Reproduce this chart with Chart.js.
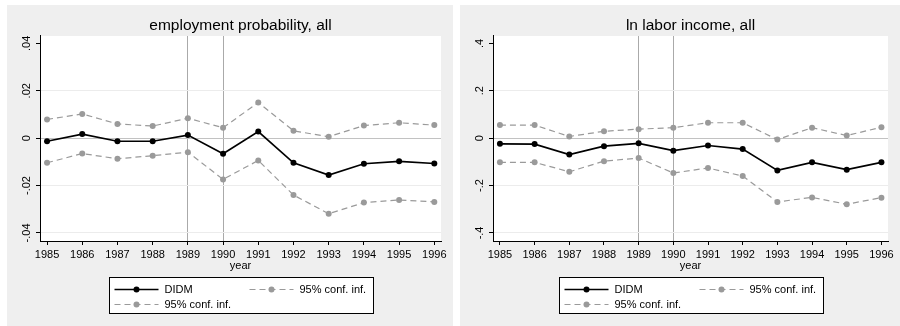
<!DOCTYPE html>
<html>
<head>
<meta charset="utf-8">
<script src="https://cdn.jsdelivr.net/npm/chart.js@4.4.1/dist/chart.umd.min.js"></script>
<style>
  html, body { margin: 0; padding: 0; background: #ffffff; }
  body { width: 900px; height: 326px; position: relative; overflow: hidden; }
  canvas { position: absolute; background: #efefef; }
  #empChart { left: 7px; top: 5px; }
  #incChart { left: 460px; top: 5px; }
</style>
</head>
<body>
<canvas id="empChart" width="446" height="321"></canvas>
<canvas id="incChart" width="440" height="321"></canvas>
<script>
// Event-study estimates by year with 95% confidence bounds
const years = [1985, 1986, 1987, 1988, 1989, 1990, 1991, 1992, 1993, 1994, 1995, 1996];

// Employment probability
const empDidm  = [-0.0013, 0.0017, -0.0013, -0.0013, 0.0013, -0.0066, 0.0028, -0.0104, -0.0156, -0.0108, -0.0098, -0.0107];
const empUpper = [0.0079, 0.0102, 0.0060, 0.0051, 0.0084, 0.0044, 0.0150, 0.0031, 0.0006, 0.0053, 0.0065, 0.0055];
const empLower = [-0.0104, -0.0065, -0.0087, -0.0074, -0.0059, -0.0174, -0.0094, -0.0240, -0.0319, -0.0272, -0.0261, -0.0269];

// Log labor income
const incDidm  = [-0.024, -0.025, -0.069, -0.034, -0.022, -0.053, -0.031, -0.046, -0.136, -0.102, -0.133, -0.102];
const incUpper = [0.055, 0.055, 0.007, 0.029, 0.038, 0.044, 0.065, 0.065, -0.006, 0.044, 0.011, 0.046];
const incLower = [-0.102, -0.102, -0.142, -0.097, -0.084, -0.147, -0.126, -0.160, -0.269, -0.250, -0.279, -0.251];

// Y-axis ticks and their labels
const empTicks = [-0.04, -0.02, 0, 0.02, 0.04];
const empTickLabels = ['-.04', '-.02', '0', '.02', '.04'];
const incTicks = [-0.4, -0.2, 0, 0.2, 0.4];
const incTickLabels = ['-.4', '-.2', '0', '.2', '.4'];

// Reference years marked with vertical lines
const markYears = [1989, 1990];

const FONT = '"Liberation Sans", Arial, Helvetica, sans-serif';
const CI_GRAY = '#9a9a9a';

// White plotting region on the gray graph background
const plotBackground = {
  id: 'plotBackground',
  beforeDraw(chart) {
    const {ctx, chartArea: a} = chart;
    ctx.save();
    ctx.fillStyle = '#ffffff';
    ctx.fillRect(a.left, a.top, a.right - a.left, a.bottom - a.top);
    ctx.restore();
  }
};

// Boxed two-column legend below the x-axis title
const boxedLegend = {
  id: 'boxedLegend',
  afterDraw(chart) {
    const {ctx, chartArea: a} = chart;
    const w = 264, h = 36;
    const bx = Math.round((a.left + a.right) / 2 - w / 2) + 0.5;
    const by = Math.round(a.bottom + 36) + 0.5;
    ctx.save();
    ctx.fillStyle = '#ffffff';
    ctx.fillRect(bx, by, w, h);
    ctx.strokeStyle = '#000000';
    ctx.lineWidth = 1;
    ctx.setLineDash([]);
    ctx.strokeRect(bx, by, w, h);
    const slots = [[5, 12], [140, 12], [5, 27]];
    chart.data.datasets.forEach((ds, i) => {
      const [ox, oy] = slots[i];
      const x0 = bx + ox, y0 = by + oy;
      ctx.strokeStyle = ds.borderColor;
      ctx.lineWidth = ds.borderWidth;
      ctx.setLineDash(ds.borderDash || []);
      ctx.beginPath();
      ctx.moveTo(x0, y0);
      ctx.lineTo(x0 + 44, y0);
      ctx.stroke();
      ctx.setLineDash([]);
      ctx.fillStyle = ds.pointBackgroundColor;
      ctx.beginPath();
      ctx.arc(x0 + 22, y0, ds.pointRadius, 0, Math.PI * 2);
      ctx.fill();
      ctx.fillStyle = '#000000';
      ctx.font = '11px ' + FONT;
      ctx.textAlign = 'left';
      ctx.textBaseline = 'middle';
      ctx.fillText(ds.label, x0 + 50, y0 + 0.5);
    });
    ctx.restore();
  }
};

function series(values) {
  return years.map((yr, i) => ({x: yr, y: values[i]}));
}

function makeChart(id, titleText, didm, upper, lower, ticks, tickLabels, yMin, yMax, yPad) {
  const ctx = document.getElementById(id);
  return new Chart(ctx, {
    type: 'line',
    data: {
      datasets: [
        {
          label: 'DIDM', data: series(didm),
          borderColor: '#000000', borderWidth: 1.7,
          pointRadius: 3, pointBackgroundColor: '#000000', pointBorderWidth: 0,
          tension: 0
        },
        {
          label: '95% conf. inf.', data: series(upper),
          borderColor: CI_GRAY, borderWidth: 1.2, borderDash: [6, 4],
          pointRadius: 3, pointBackgroundColor: CI_GRAY, pointBorderWidth: 0,
          tension: 0
        },
        {
          label: '95% conf. inf.', data: series(lower),
          borderColor: CI_GRAY, borderWidth: 1.2, borderDash: [6, 4],
          pointRadius: 3, pointBackgroundColor: CI_GRAY, pointBorderWidth: 0,
          tension: 0
        }
      ]
    },
    options: {
      responsive: false,
      animation: false,
      devicePixelRatio: 1,
      layout: { padding: { left: 0, right: 12, top: 0, bottom: 53.7 } },
      plugins: {
        legend: { display: false },
        tooltip: { enabled: false },
        title: {
          display: true, text: titleText, fullSize: false,
          color: '#000000',
          font: { family: FONT, size: 15.5, weight: 'normal', lineHeight: 1.2 },
          padding: { top: 11.7, bottom: 0.7 }
        }
      },
      scales: {
        x: {
          type: 'linear', min: 1984.8, max: 1996.19,
          afterBuildTicks(scale) { scale.ticks = years.map(v => ({value: v})); },
          afterFit(scale) { scale.height = 31.3; },
          ticks: {
            color: '#000000', padding: 3, maxRotation: 0, autoSkip: false,
            font: { family: FONT, size: 11 },
            callback: v => String(v)
          },
          grid: {
            color: c => (c.tick && markYears.includes(c.tick.value)) ? '#aaaaaa' : 'rgba(0,0,0,0)',
            tickColor: '#000000', tickLength: 4, lineWidth: 1
          },
          border: { color: '#000000', width: 1 },
          title: {
            display: true, text: 'year', color: '#000000',
            font: { family: FONT, size: 11, lineHeight: 1.2 },
            padding: { top: 0, bottom: 0 }
          }
        },
        y: {
          type: 'linear', min: yMin, max: yMax,
          afterBuildTicks(scale) { scale.ticks = ticks.map(v => ({value: v})); },
          afterFit(scale) { scale.width = 33; },
          ticks: {
            color: '#000000', padding: yPad, minRotation: 90, maxRotation: 90,
            crossAlign: 'center', autoSkip: false,
            font: { family: FONT, size: 11 },
            callback: v => {
              const k = ticks.findIndex(t => Math.abs(t - v) < 1e-9);
              return k >= 0 ? tickLabels[k] : '';
            }
          },
          grid: {
            color: c => {
              if (!c.tick) return 'rgba(0,0,0,0)';
              const v = c.tick.value;
              if (Math.abs(v) < 1e-9) return '#c2c2c2';
              if (Math.abs(v - ticks[ticks.length - 1]) < 1e-9) return 'rgba(0,0,0,0)';
              return '#ececec';
            },
            tickColor: '#000000', tickLength: 4, lineWidth: 1
          },
          border: { color: '#000000', width: 1 }
        }
      }
    },
    plugins: [plotBackground, boxedLegend]
  });
}

makeChart('empChart', 'employment probability, all', empDidm, empUpper, empLower,
  empTicks, empTickLabels, -0.0434, 0.0431, -0.5);
makeChart('incChart', 'ln labor income, all', incDidm, incUpper, incLower,
  incTicks, incTickLabels, -0.434, 0.431, 2.6);
</script>
</body>
</html>
